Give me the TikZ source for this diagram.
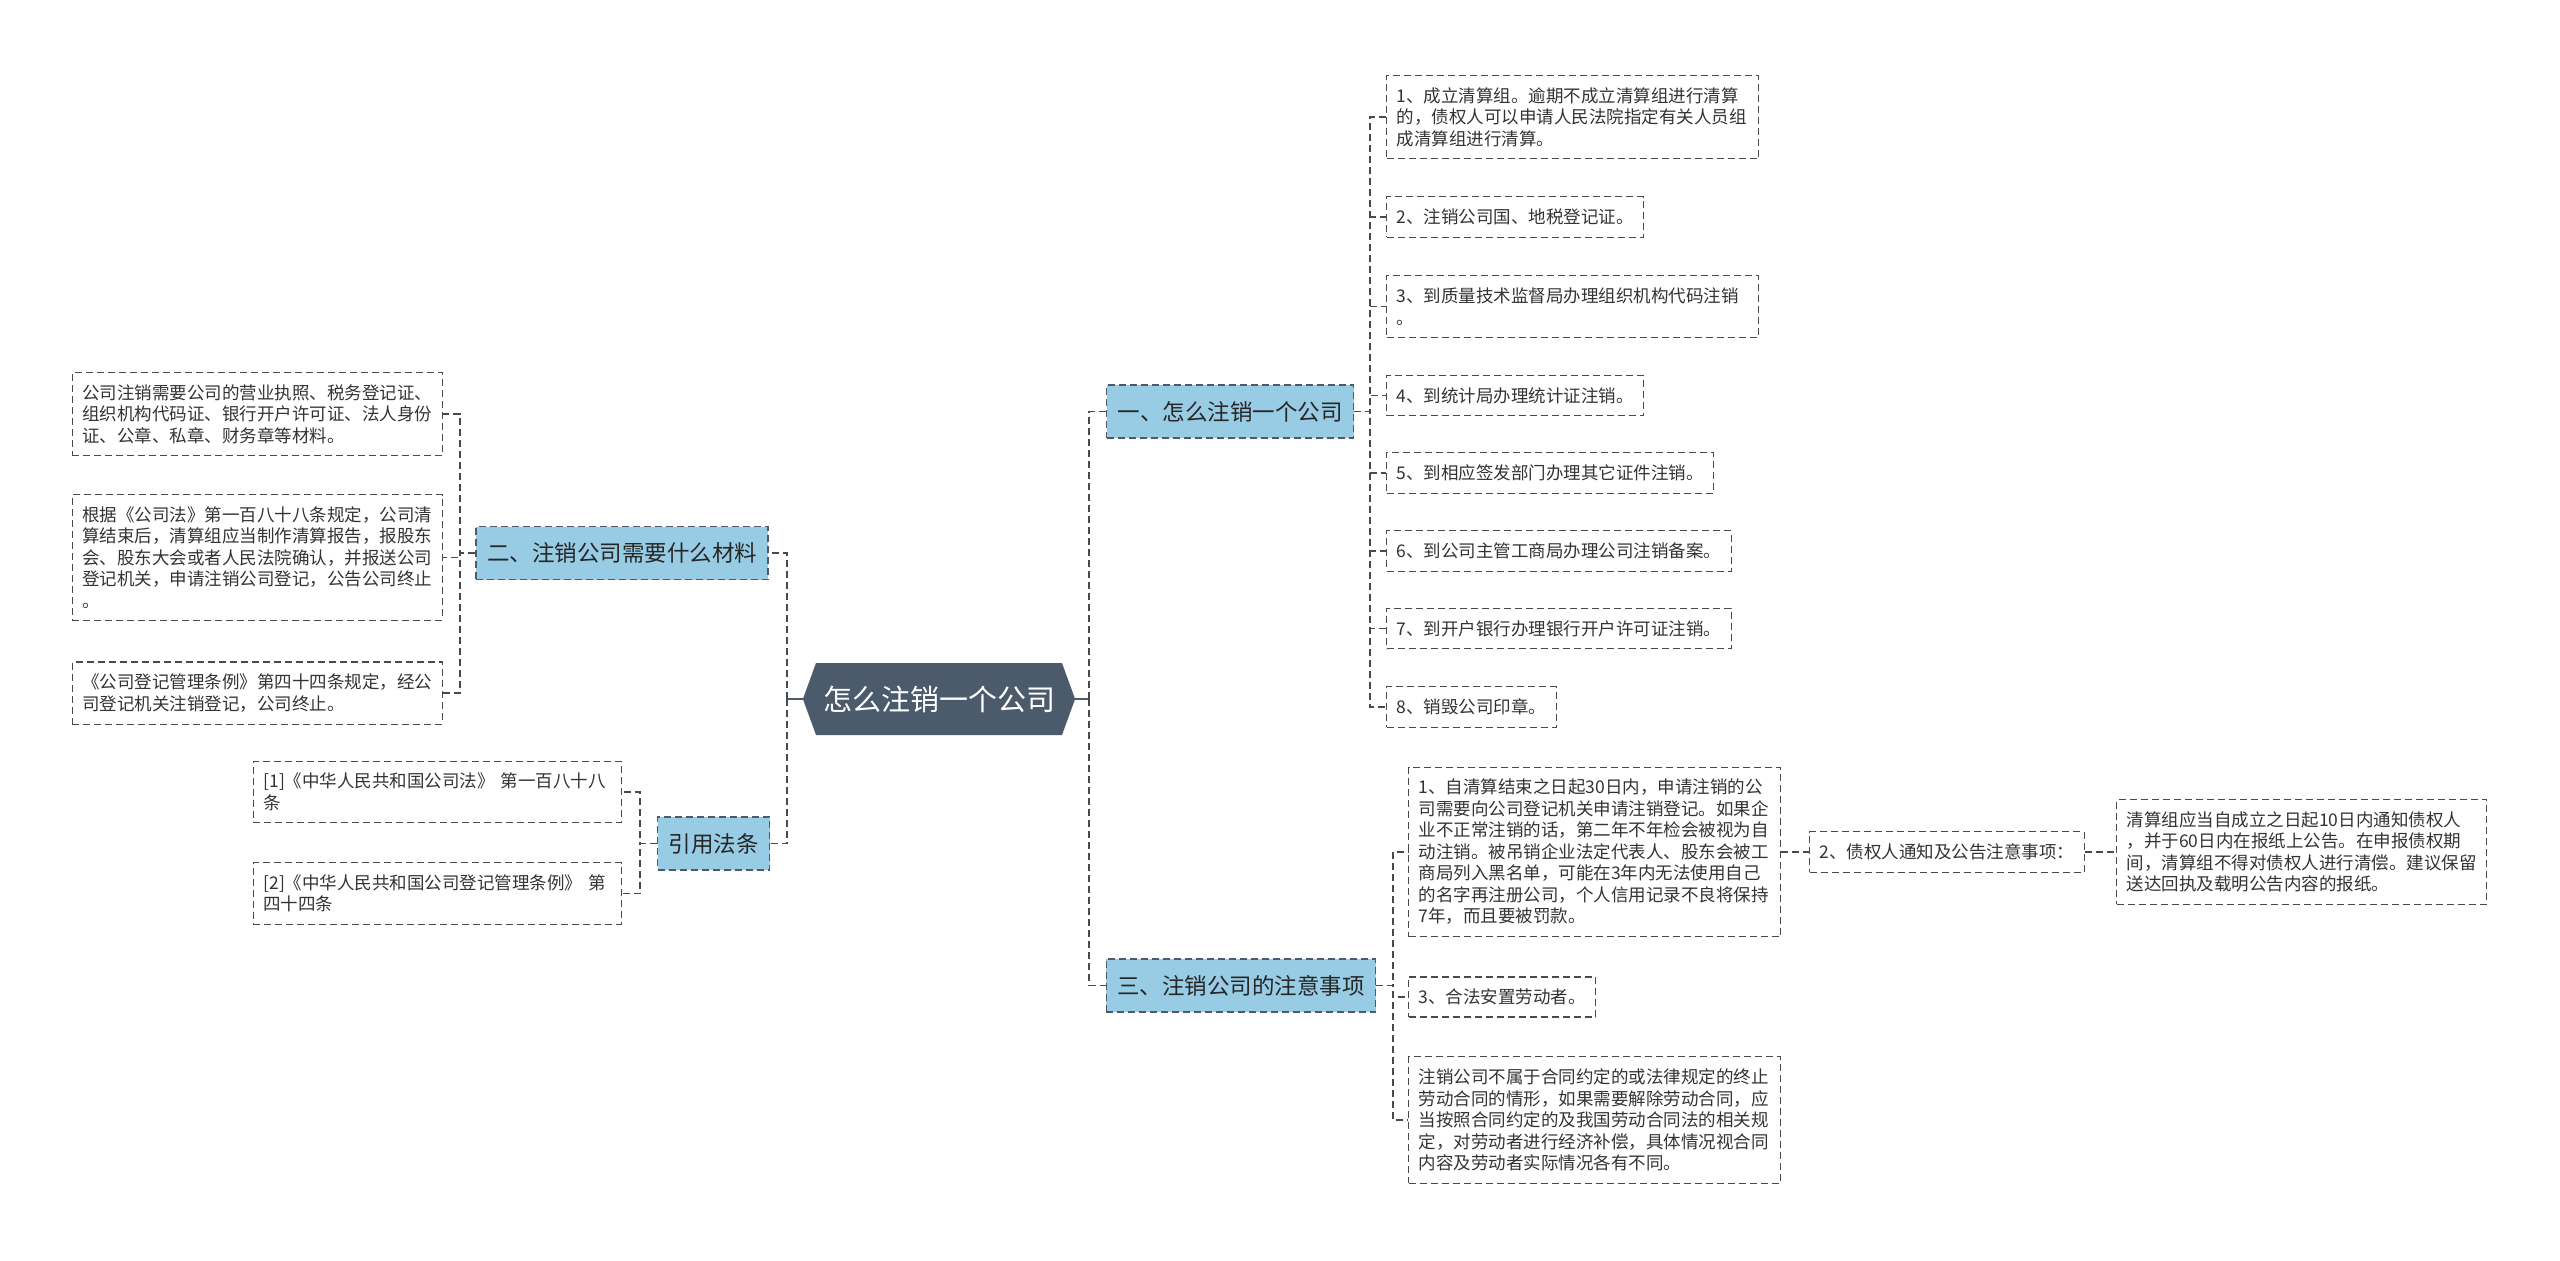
\documentclass[tikz,border=0pt]{standalone}
\usepackage{fontspec}
\setmainfont{Noto Sans CJK SC}
\usetikzlibrary{shapes.symbols}

\definecolor{rootcol}{HTML}{4B5B6B}
\definecolor{topiccol}{HTML}{98CCE4}
\definecolor{linecol}{HTML}{4A4A4A}

\begin{document}
\begin{tikzpicture}[
  x=1pt, y=-1pt,
  root/.style={signal, signal to=east and west, signal pointer angle=140, fill=rootcol, text=white, font=\fontsize{29}{34}\selectfont, inner xsep=7pt, minimum height=72pt},
  topic/.style={draw=rootcol, dash pattern=on 7pt off 4pt, line width=1.3pt, fill=topiccol, text=black!85, font=\fontsize{22.5}{27}\selectfont, inner xsep=11pt, minimum height=53pt},
  leaf/.style={draw=linecol, dash pattern=on 7pt off 4pt, line width=1.2pt, text=black!80, font=\fontsize{17.5}{21.5}\selectfont, inner xsep=10pt, inner ysep=12pt, align=left},
  link/.style={draw=linecol, dash pattern=on 7pt off 4pt, line width=1.2pt},
  stem/.style={draw=rootcol, line width=2pt}
]
\useasboundingbox (0,0) rectangle (2560,1261);

% centre
\node[root] (root) at (939,699) {怎么注销一个公司};

% right: main topics
\node[topic] (one) at (1230,411.5) {一、怎么注销一个公司};
\node[topic] (three) at (1241,985.5) {三、注销公司的注意事项};

% left: main topics
\node[topic] (two) at (622,553) {二、注销公司需要什么材料};
\node[topic] (law) at (713.5,843.5) {引用法条};

% steps under topic one
\node[leaf, anchor=west, text width=352pt] (s1) at (1386,117) {1、成立清算组。逾期不成立清算组进行清算\\的，债权人可以申请人民法院指定有关人员组\\成清算组进行清算。};
\node[leaf, anchor=west] (s2) at (1386,217) {2、注销公司国、地税登记证。};
\node[leaf, anchor=west, text width=352pt] (s3) at (1386,306.5) {3、到质量技术监督局办理组织机构代码注销\\。};
\node[leaf, anchor=west] (s4) at (1386,395.5) {4、到统计局办理统计证注销。};
\node[leaf, anchor=west] (s5) at (1386,473) {5、到相应签发部门办理其它证件注销。};
\node[leaf, anchor=west] (s6) at (1386,551) {6、到公司主管工商局办理公司注销备案。};
\node[leaf, anchor=west] (s7) at (1386,628.5) {7、到开户银行办理银行开户许可证注销。};
\node[leaf, anchor=west] (s8) at (1386,707) {8、销毁公司印章。};

% notes under topic three
\node[leaf, anchor=west, text width=352pt] (n1) at (1408,852) {1、自清算结束之日起30日内，申请注销的公\\司需要向公司登记机关申请注销登记。如果企\\业不正常注销的话，第二年不年检会被视为自\\动注销。被吊销企业法定代表人、股东会被工\\商局列入黑名单，可能在3年内无法使用自己\\的名字再注册公司，个人信用记录不良将保持\\7年，而且要被罚款。};
\node[leaf, anchor=west] (n2) at (1809,852) {2、债权人通知及公告注意事项：};
\node[leaf, anchor=west, text width=350pt] (n2a) at (2116,852) {清算组应当自成立之日起10日内通知债权人\\，并于60日内在报纸上公告。在申报债权期\\间，清算组不得对债权人进行清偿。建议保留\\送达回执及载明公告内容的报纸。};
\node[leaf, anchor=west] (n3) at (1408,997) {3、合法安置劳动者。};
\node[leaf, anchor=west, text width=352pt] (n4) at (1408,1120) {注销公司不属于合同约定的或法律规定的终止\\劳动合同的情形，如果需要解除劳动合同，应\\当按照合同约定的及我国劳动合同法的相关规\\定，对劳动者进行经济补偿，具体情况视合同\\内容及劳动者实际情况各有不同。};

% materials under topic two
\node[leaf, anchor=east, text width=350pt] (m1) at (443,414) {公司注销需要公司的营业执照、税务登记证、\\组织机构代码证、银行开户许可证、法人身份\\证、公章、私章、财务章等材料。};
\node[leaf, anchor=east, text width=350pt] (m2) at (443,557.5) {根据《公司法》第一百八十八条规定，公司清\\算结束后，清算组应当制作清算报告，报股东\\会、股东大会或者人民法院确认，并报送公司\\登记机关，申请注销公司登记，公告公司终止\\。};
\node[leaf, anchor=east, text width=350pt] (m3) at (443,693) {《公司登记管理条例》第四十四条规定，经公\\司登记机关注销登记，公司终止。};

% cited laws
\node[leaf, anchor=east, text width=348pt] (r1) at (622,792) {[1]《中华人民共和国公司法》 第一百八十八\\条};
\node[leaf, anchor=east, text width=348pt] (r2) at (622,893.5) {[2]《中华人民共和国公司登记管理条例》 第\\四十四条};

% trunks
\coordinate (tR) at (1089,0);
\coordinate (tL) at (787,0);
\coordinate (tOne) at (1370,0);
\coordinate (tThree) at (1393,0);
\coordinate (tTwo) at (460,0);
\coordinate (tLaw) at (640,0);

% connectors
\draw[stem] (root.east) -- (tR |- root.east);
\draw[stem] (root.west) -- (tL |- root.west);
\foreach \t in {one,three}
  \draw[link] (tR |- root.east) |- (\t.west);
\foreach \t in {two,law}
  \draw[link] (tL |- root.west) |- (\t.east);

\foreach \c in {s1,s2,s3,s4,s5,s6,s7,s8}
  \draw[link] (one.east) -- (tOne |- one.east) |- (\c.west);
\foreach \c in {n1,n3,n4}
  \draw[link] (three.east) -- (tThree |- three.east) |- (\c.west);
\draw[link] (n1.east) -- (n2.west);
\draw[link] (n2.east) -- (n2a.west);

\foreach \c in {m1,m2,m3}
  \draw[link] (two.west) -- (tTwo |- two.west) |- (\c.east);
\foreach \c in {r1,r2}
  \draw[link] (law.west) -- (tLaw |- law.west) |- (\c.east);
\end{tikzpicture}
\end{document}
